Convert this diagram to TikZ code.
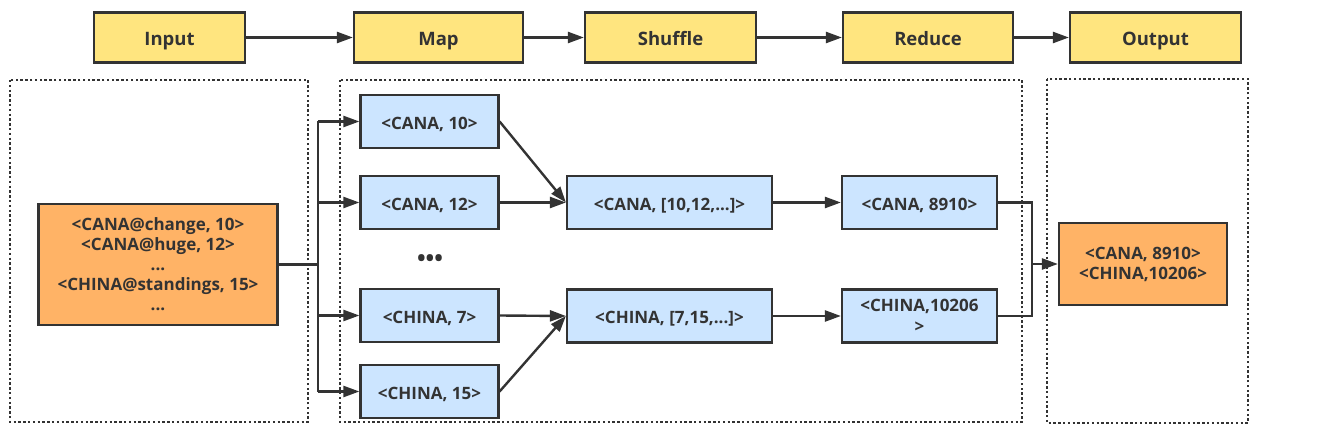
\documentclass[tikz,border=0pt]{standalone}
\usepackage{fontspec}
\setmainfont{Open Sans}
\usetikzlibrary{arrows.meta}

\definecolor{stageyellow}{HTML}{FFE57F}
\definecolor{dataorange}{HTML}{FFB366}
\definecolor{pairblue}{HTML}{CCE5FF}
\definecolor{linegray}{HTML}{333333}

\begin{document}
\begin{tikzpicture}[
    x=1pt, y=-1pt,
    every node/.style={font=\bfseries, text=linegray},
    >={Triangle[length=16pt, width=11pt]},
    stagebox/.style={draw=linegray, fill=stageyellow, line width=2.2pt,
        minimum height=50pt, inner sep=0pt, text height=16pt, text depth=0pt,
        font=\fontsize{18.5}{22}\selectfont\bfseries},
    pairbox/.style={draw=linegray, fill=pairblue, line width=2.2pt,
        minimum height=53pt, inner sep=0pt, text height=15.5pt, text depth=0pt,
        font=\fontsize{17}{21}\selectfont\bfseries},
    databox/.style={draw=linegray, fill=dataorange, line width=2.2pt,
        inner sep=0pt, align=center, font=\fontsize{17}{20}\selectfont\bfseries},
    link/.style={->, draw=linegray, line width=2.4pt},
    wire/.style={draw=linegray, line width=2.4pt},
    group/.style={draw=linegray, line width=2pt, dash pattern=on 2.4pt off 2.4pt},
]
\useasboundingbox (0,0) rectangle (1319,446);

% === Stage row ===
\node[stagebox, minimum width=151pt] (input)   at (169.5, 37.5) {Input};
\node[stagebox, minimum width=169pt] (map)     at (438.5, 37.5) {Map};
\node[stagebox, minimum width=171pt] (shuffle) at (670.5, 37.5) {Shuffle};
\node[stagebox, minimum width=170pt] (reduce)  at (928, 37.5)   {Reduce};
\node[stagebox, minimum width=171pt] (output)  at (1155.5, 37.5) {Output};
\draw[link] (input) -- (map);
\draw[link] (map) -- (shuffle);
\draw[link] (shuffle) -- (reduce);
\draw[link] (reduce) -- (output);

% === Dotted groups ===
\draw[group] (10, 80) rectangle (308, 422);
\draw[group] (340, 80) rectangle (1022, 422);
\draw[group] (1047, 79) rectangle (1248, 423);

% === Input data ===
\node[databox, minimum width=239pt, minimum height=121pt] (data) at (158, 264.5)
    {<CANA@change, 10>\\<CANA@huge, 12>\\...\\<CHINA@standings, 15>\\...};

% === Map pairs ===
\node[pairbox, minimum width=138pt] (cana10)  at (429.5, 121.5) {<CANA, 10>};
\node[pairbox, minimum width=138pt] (cana12)  at (429.5, 202.5) {<CANA, 12>};
\node[pairbox, minimum width=138pt] (china7)  at (429.5, 315.5) {<CHINA, 7>};
\node[pairbox, minimum width=138pt] (china15) at (429.5, 391.5) {<CHINA, 15>};
\node[font=\fontsize{23}{23}\selectfont\bfseries] (more) at (430, 261) {•••};

% === Shuffle groups ===
\node[pairbox, minimum width=205pt] (canalist)  at (669.5, 202.5) {<CANA, [10,12,...]>};
\node[pairbox, minimum width=205pt] (chinalist) at (669.5, 316)   {<CHINA, [7,15,...]>};

% === Reduce sums ===
\node[pairbox, minimum width=155pt] (canasum)  at (919.5, 202.5) {<CANA, 8910>};
\node[pairbox, minimum width=155pt, text height=, text depth=, align=center,
    font=\fontsize{17}{21}\selectfont\bfseries]
    (chinasum) at (919.5, 316) {<CHINA,10206\\>};

% === Result ===
\node[databox, minimum width=168pt, minimum height=82pt] (result) at (1143, 264)
    {<CANA, 8910>\\<CHINA,10206>};

% === Split bus (input -> map) ===
\coordinate (lbus) at (318, 264.5);
\draw[wire] (data.east) -- (lbus);
\draw[wire] (lbus |- cana10) -- (lbus |- china15);
\foreach \m in {cana10, cana12, china7, china15}
    \draw[link] (lbus |- \m) -- (\m.west);

% === Map -> shuffle ===
\draw[link] (cana10.east) -- (canalist.west);
\draw[link] (cana12.east) -- (canalist.west);
\draw[link] (china7.east) -- (chinalist.west);
\draw[link] (china15.east) -- (chinalist.west);

% === Shuffle -> reduce ===
\draw[link] (canalist) -- (canasum);
\draw[link] (chinalist) -- (chinasum);

% === Merge bus (reduce -> output) ===
\coordinate (rbus) at (1032, 264);
\draw[wire] (canasum.east) -| (rbus);
\draw[wire] (chinasum.east) -| (rbus);
\draw[link] (rbus) -- (result.west);

\end{tikzpicture}
\end{document}
